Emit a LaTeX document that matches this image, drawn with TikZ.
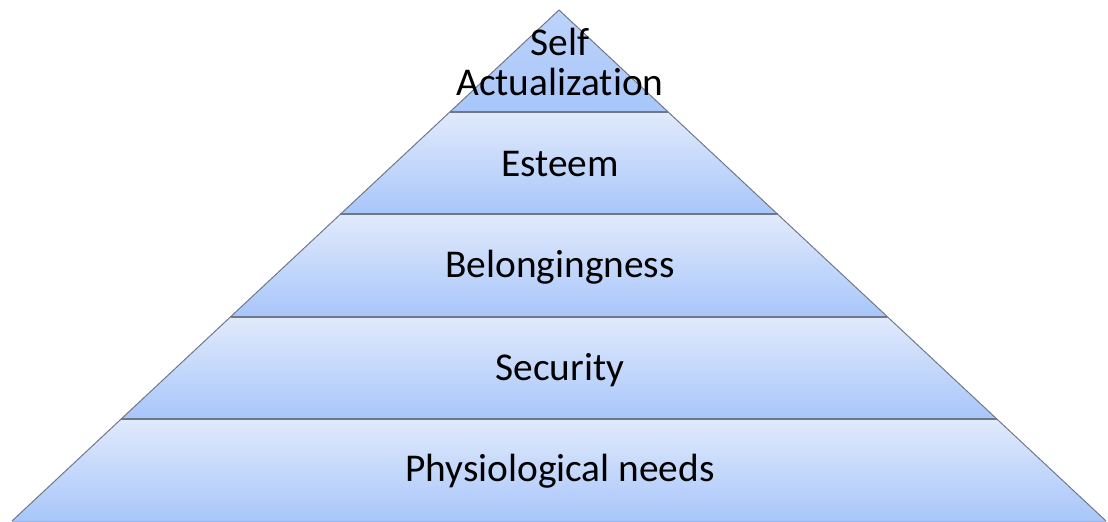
\documentclass[tikz,border=0pt]{standalone}
\usepackage{fontspec}
\setmainfont{Carlito}[Ligatures=CommonOff]
\definecolor{layerTop}{HTML}{E1EAFC}
\definecolor{layerMid}{HTML}{BDD3FA}
\definecolor{layerBot}{HTML}{A8C6FA}
\definecolor{edgeGray}{HTML}{6E7886}
\tikzset{
  levelText/.style={font=\fontsize{28}{29}\selectfont, align=center, inner sep=0pt}
}

\begin{document}
\begin{tikzpicture}[x=0.025cm, y=-0.025cm]

% ------------------------
% PARAMETERS
% ------------------------
\def\apexx{559}
\def\apexy{10}
\def\layerh{102.2}
\def\slope{1.0705}

\useasboundingbox (0,0) rectangle (1108,521);

% ------------------------
% Apex triangle
% ------------------------
\pgfmathsetmacro\wone{\layerh*\slope}
\shade[top color=layerMid, bottom color=layerBot]
  (\apexx,\apexy) -- (\apexx+\wone,\apexy+\layerh) -- (\apexx-\wone,\apexy+\layerh) -- cycle;

% ------------------------
% Lower layers
% ------------------------
\foreach \i in {1,2,3,4}{
  \pgfmathsetmacro\ytop{\apexy+\i*\layerh}
  \pgfmathsetmacro\ybot{\ytop+\layerh}
  \pgfmathsetmacro\wtop{(\ytop-\apexy)*\slope}
  \pgfmathsetmacro\wbot{(\ybot-\apexy)*\slope}
  \shade[top color=layerTop, bottom color=layerBot]
    (\apexx-\wtop,\ytop) -- (\apexx+\wtop,\ytop) -- (\apexx+\wbot,\ybot) -- (\apexx-\wbot,\ybot) -- cycle;
  \draw[edgeGray, line width=1.3pt] (\apexx-\wtop,\ytop) -- (\apexx+\wtop,\ytop);
}

% ------------------------
% Outline
% ------------------------
\pgfmathsetmacro\wbase{5*\layerh*\slope}
\coordinate (apex) at (\apexx,\apexy);
\coordinate (baseL) at (\apexx-\wbase,\apexy+5*\layerh);
\coordinate (baseR) at (\apexx+\wbase,\apexy+5*\layerh);
\draw[edgeGray, line width=0.7pt] (baseL) -- (apex) -- (baseR);
\draw[layerBot!80!edgeGray, line width=0.6pt] (baseL) -- (baseR);

% ------------------------
% Labels
% ------------------------
\node[levelText] (selfAct) at (560,62) {Self\\Actualization};
\node[levelText] (esteem) at (560,164) {Esteem};
\node[levelText] (belong) at (560,267) {Belongingness};
\node[levelText] (security) at (560,370) {Security};
\node[levelText] (physio) at (560,471) {Physiological needs};

\end{tikzpicture}
\end{document}
